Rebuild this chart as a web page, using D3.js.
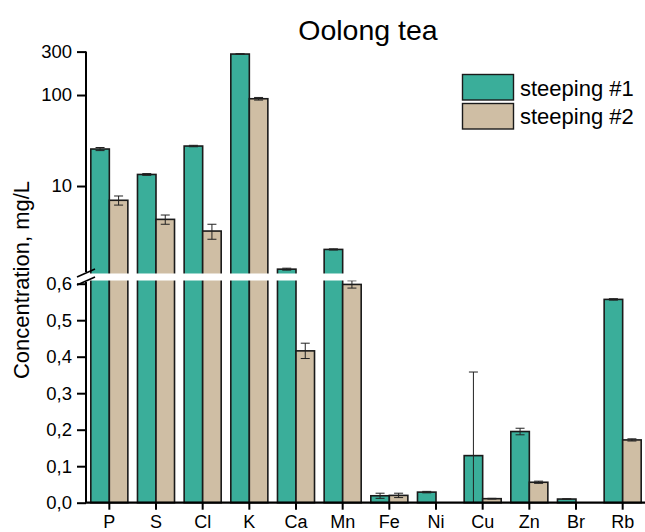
<!DOCTYPE html>
<html>
<head>
<meta charset="utf-8">
<script src="https://cdn.jsdelivr.net/npm/d3@7/dist/d3.min.js"></script>
<style>
  html, body { margin: 0; padding: 0; background: #fff; }
  svg { display: block; font-family: "Liberation Sans", Arial, sans-serif; }
</style>
</head>
<body>
<svg id="chart" width="645" height="532"></svg>
<script>
// Element concentrations in two successive steepings (mg/L), with error bars
const categories = ["P", "S", "Cl", "K", "Ca", "Mn", "Fe", "Ni", "Cu", "Zn", "Br", "Rb"];
const seriesNames = ["steeping #1", "steeping #2"];
const steeping1 = [25.5, 13.4, 27.5, 282, 1.22, 2.01, 0.019, 0.029, 0.129, 0.195, 0.010, 0.557];
const steeping1Err = [1.0, 0.3, 0.5, 3, 0.03, 0.03, 0.007, 0.002, 0.229, 0.009, 0.001, 0.002];
const steeping2 = [6.97, 4.3, 3.2, 91, 0.416, 0.598, 0.020, null, 0.011, 0.056, null, 0.172];
const steeping2Err = [0.8, 0.5, 0.6, 3, 0.021, 0.010, 0.006, null, 0.001, 0.003, null, 0.003];
const lowTicks = [0, 0.1, 0.2, 0.3, 0.4, 0.5, 0.6];
const highTicks = [10, 100, 300];
const colors = ["#3aae9a", "#cfbea4"];

const svg = d3.select("#chart");

// Layout of the broken axis
const left = 86, right = 646;
const lowBottom = 502.7, lowTop = 281;
const highBottom = 273, highTop = 51.6;
const gapMid = (lowTop + highBottom) / 2;

const x = d3.scaleBand().domain(categories).range([left, right]).padding(0);
const xs = d3.scaleBand().domain([0, 1]).range([0, x.bandwidth()]).paddingInner(0).paddingOuter(0.26);

// Lower linear segment and upper log segment
const yLow = d3.scaleLinear().domain([0, 0.6074]).range([lowBottom, lowTop]);
const yHigh = d3.scaleLog().domain([1.107, 300]).range([highBottom, highTop]);
const lowMax = yLow.domain()[1];
const highMin = yHigh.domain()[0];

const series = [
  { vals: steeping1, errs: steeping1Err },
  { vals: steeping2, errs: steeping2Err }
];

const bars = svg.append("g");
const errG = svg.append("g");

series.forEach((s, si) => {
  categories.forEach((c, ci) => {
    const v = s.vals[ci];
    if (v == null) return;
    const bx = x(c) + xs(si), bw = xs.bandwidth();
    // lower segment
    const lowEnd = v > lowMax ? gapMid : yLow(v);
    bars.append("rect")
      .attr("x", bx).attr("y", lowEnd)
      .attr("width", bw).attr("height", yLow(0) - lowEnd)
      .attr("fill", colors[si]).attr("stroke", "#1a1a1a").attr("stroke-width", 1.6);
    // upper segment
    if (v > highMin) {
      const topY = yHigh(v);
      bars.append("rect")
        .attr("x", bx).attr("y", topY)
        .attr("width", bw).attr("height", gapMid - topY)
        .attr("fill", colors[si]).attr("stroke", "#1a1a1a").attr("stroke-width", 1.6);
    }
    // error bar
    const e = s.errs[ci];
    if (e != null && e > 0) {
      const cx = bx + bw / 2;
      let y1, y2;
      if (v > highMin) {
        y1 = yHigh(Math.max(v - e, highMin));
        y2 = yHigh(v + e);
      } else {
        y1 = yLow(Math.max(v - e, 0));
        y2 = yLow(Math.min(v + e, lowMax));
      }
      errG.append("line").attr("x1", cx).attr("x2", cx).attr("y1", y1).attr("y2", y2)
        .attr("stroke", "#222").attr("stroke-width", 1);
      const capped = [v + e];
      if (v - e > (v > highMin ? highMin : 0)) capped.push(v - e);
      capped.forEach(cv => {
        const cy = v > highMin ? yHigh(cv) : yLow(cv);
        errG.append("line").attr("x1", cx - 4.5).attr("x2", cx + 4.5).attr("y1", cy).attr("y2", cy)
          .attr("stroke", "#222").attr("stroke-width", 1);
      });
    }
  });
});

// White band marking the axis break
svg.append("rect").attr("x", left + 1).attr("y", highBottom + 0.5)
  .attr("width", right - left).attr("height", lowTop - highBottom - 1)
  .attr("fill", "#fff");

// Y axes
const axisLow = d3.axisLeft(yLow).tickValues(lowTicks).tickSize(9).tickPadding(5)
  .tickFormat(d => d3.format(".1f")(d).replace(".", ","));
const axisHigh = d3.axisLeft(yHigh).tickValues(highTicks).tickSize(9).tickPadding(5)
  .tickFormat(d3.format("d"));

[[axisLow, yLow], [axisHigh, yHigh]].forEach(([ax]) => {
  const g = svg.append("g").attr("transform", `translate(${left},0)`).call(ax);
  g.select(".domain").remove();
  g.selectAll(".tick line").attr("stroke", "#000").attr("stroke-width", 2);
  g.selectAll(".tick text").attr("fill", "#000").attr("font-size", 18.5)
    .attr("font-family", "Liberation Sans, Arial, sans-serif");
});

// Vertical axis lines for each segment
svg.append("line").attr("x1", left).attr("x2", left).attr("y1", lowBottom).attr("y2", lowTop + 1)
  .attr("stroke", "#000").attr("stroke-width", 2);
svg.append("line").attr("x1", left).attr("x2", left).attr("y1", highBottom - 1).attr("y2", highTop)
  .attr("stroke", "#000").attr("stroke-width", 2);

// Break slashes
[highBottom, lowTop].forEach(yy => {
  svg.append("line").attr("x1", left - 9).attr("x2", left + 9)
    .attr("y1", yy + 4).attr("y2", yy - 4)
    .attr("stroke", "#000").attr("stroke-width", 1.6);
});

// X axis
const xAxis = d3.axisBottom(x).tickSize(7).tickPadding(6);
const gx = svg.append("g").attr("transform", `translate(0,${lowBottom})`).call(xAxis);
gx.select(".domain").attr("stroke", "#000").attr("stroke-width", 2.2)
  .attr("d", `M${left - 1},0H${right}`);
gx.selectAll(".tick line").attr("stroke", "#000").attr("stroke-width", 2);
gx.selectAll(".tick text").attr("fill", "#000").attr("font-size", 18)
  .attr("font-family", "Liberation Sans, Arial, sans-serif");

// Title
svg.append("text").attr("x", 368).attr("y", 40).attr("text-anchor", "middle")
  .attr("font-size", 28.5).attr("fill", "#000").text("Oolong tea");

// Y axis title
svg.append("text").attr("transform", "translate(29,280) rotate(-90)")
  .attr("text-anchor", "middle").attr("font-size", 22).attr("fill", "#000")
  .text("Concentration, mg/L");

// Legend
const legend = svg.append("g");
seriesNames.forEach((name, i) => {
  legend.append("rect").attr("x", 462.5).attr("y", 74.5 + i * 29)
    .attr("width", 51).attr("height", 25.5)
    .attr("fill", colors[i]).attr("stroke", "#1a1a1a").attr("stroke-width", 1.4);
  legend.append("text").attr("x", 520).attr("y", 95.5 + i * 28.5)
    .attr("font-size", 22).attr("fill", "#000").text(name);
});
</script>
</body>
</html>
